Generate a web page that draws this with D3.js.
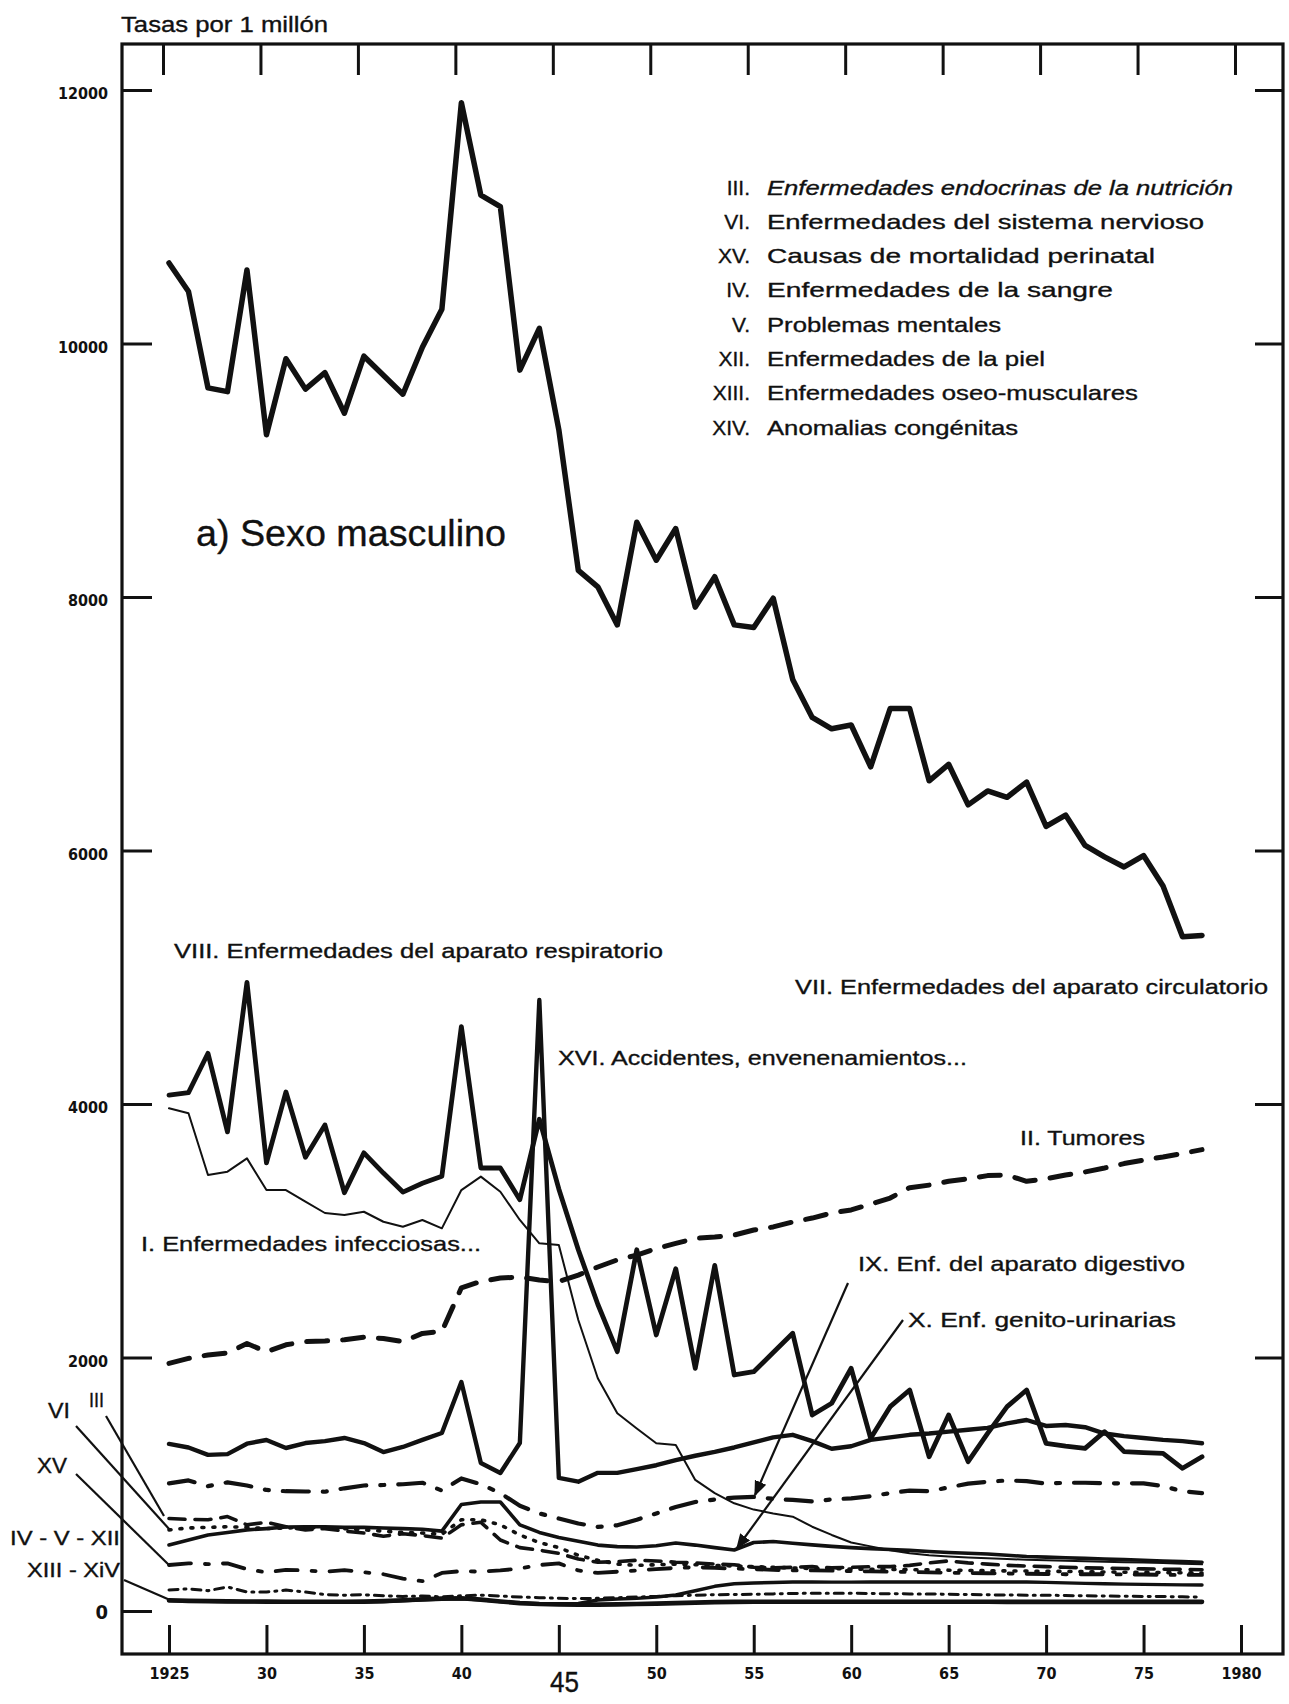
<!DOCTYPE html>
<html>
<head>
<meta charset="utf-8">
<script src="https://cdn.jsdelivr.net/npm/d3@7"></script>
<style>
  html, body { margin: 0; padding: 0; background: #fff; }
  svg { display: block; }
  text { font-family: "Liberation Sans", Arial, Helvetica, sans-serif; fill: #111; stroke: #111; stroke-width: 0.35; }
  .tick text { font-family: "DejaVu Sans Condensed", "Liberation Sans Narrow", "Liberation Sans", sans-serif; font-weight: bold; stroke: none; }
</style>
</head>
<body>
<svg id="chart" width="1289" height="1704"></svg>
<script>
// ---- data: tasas por 1 millón, sexo masculino, 1925-1978 ----
const years = d3.range(1925, 1979);

// VII
const circulatorio = [10635,10410,9650,9620,10580,9280,9880,9640,9770,9450,
  9900,9750,9600,9970,10270,11900,11170,11080,9790,10120,
  9320,8210,8080,7780,8590,8290,8540,7920,8160,7780,
  7760,7990,7350,7050,6960,6990,6660,7120,7120,6550,
  6680,6360,6470,6420,6540,6190,6280,6040,5950,5870,
  5960,5720,5320,5330];

// VIII
const respiratorio = [4070,4090,4400,3780,4960,3535,4095,3580,3835,3300,
  3615,3455,3305,3375,3430,4610,3495,3495,3245,3880,
  3330,2850,2420,2046,2850,2178,2700,1915,2727,1862,
  1888,2040,2191,1546,1639,1915,1362,1612,1744,1217,
  1546,1178,1402,1612,1744,1323,1300,1283,1415,1257,
  1250,1244,1126,1217];

// I
const infecciosas = [3966,3927,3440,3466,3571,3321,3321,3229,3140,3124,
  3150,3071,3032,3085,3019,3321,3427,3308,3085,2901,
  2888,2296,1836,1560,1440,1323,1310,1034,930,850,
  800,770,744,665,600,540,510,480,455,440,
  430,422,416,410,405,400,396,392,388,385,
  382,378,372,368];

// XVI
const accidentes = [1318,1290,1232,1238,1320,1349,1286,1325,1340,1365,
  1325,1254,1294,1350,1404,1807,1168,1089,1325,4820,
  1050,1020,1090,1090,1120,1150,1190,1225,1255,1290,
  1330,1370,1390,1340,1280,1300,1350,1370,1390,1400,
  1415,1430,1445,1480,1507,1460,1467,1450,1400,1380,
  1365,1350,1340,1323];

// II
const tumores = [1954,1993,2020,2035,2110,2045,2100,2125,2130,2140,
  2160,2150,2125,2190,2205,2550,2600,2627,2635,2611,
  2600,2650,2714,2770,2808,2860,2900,2940,2950,2966,
  3006,3030,3069,3100,3140,3164,3210,3258,3340,3360,
  3390,3410,3435,3440,3390,3410,3440,3464,3495,3530,
  3558,3582,3610,3640];

// IX
const digestivo = [1007,1030,985,1015,990,955,945,943,941,968,
  990,994,1000,1012,950,1046,1000,930,830,770,
  730,690,664,676,720,770,820,860,880,895,
  900,885,876,865,880,889,905,930,950,945,
  975,1005,1020,1030,1025,1005,1012,1012,1008,1007,
  1007,985,945,930];

// X
const genitourinarias = [521,560,600,620,640,650,663,665,665,660,
  660,655,650,645,630,840,860,860,680,620,
  580,550,520,508,505,515,536,520,500,481,
  540,548,535,522,510,500,492,485,478,470,
  462,456,450,440,430,425,420,415,410,405,
  400,395,390,385];

// III
const endocrinas = [730,722,720,745,680,700,665,640,650,630,
  615,590,610,595,575,680,700,560,500,480,
  455,410,385,390,400,395,385,380,370,365,
  345,340,345,350,340,345,350,350,360,380,
  395,380,370,360,355,350,345,340,338,335,
  332,330,328,325];

// VI
const nervioso = [640,655,660,665,660,650,655,660,655,650,
  640,630,620,615,605,720,720,680,600,540,
  500,440,400,370,360,365,370,365,360,355,
  350,345,340,335,335,330,330,328,326,325,
  322,320,318,316,315,313,312,310,308,306,
  305,303,302,300];

// XV
const perinatal = [363,376,370,376,330,305,325,320,310,323,
  305,290,255,235,300,315,310,320,335,363,
  376,320,300,310,320,330,340,345,340,335,
  330,325,320,320,318,315,312,310,308,305,
  302,300,298,296,294,292,290,290,290,288,
  288,285,285,285];

// IV - V - XII
const sangreMentalesPiel = [166,175,160,190,150,150,165,150,130,125,
  128,120,115,118,112,120,125,118,110,105,
  100,98,100,105,110,115,120,125,128,130,
  132,135,138,140,140,140,138,136,135,135,
  132,130,128,126,125,125,122,120,118,116,
  115,114,112,110];

// XIII - XIV
const oseoMusculares = [85,80,78,76,75,74,73,73,73,73,
  74,78,85,92,98,100,90,75,62,55,
  52,50,50,52,55,58,62,66,70,72,
  73,73,73,73,73,73,73,73,73,73,
  73,73,73,72,72,72,72,72,72,72,
  72,72,72,72];
const congenitas = [80,78,76,74,73,72,72,72,72,72,
  72,74,80,88,94,96,88,74,64,58,
  56,60,87,95,100,110,126,160,195,215,
  221,225,229,229,228,228,229,229,229,229,
  229,229,229,229,229,226,222,218,215,212,
  210,208,206,205];

const yTicks = [0, 2000, 4000, 6000, 8000, 10000, 12000];
const xTicks = [1925, 1930, 1935, 1940, 1945, 1950, 1955, 1960, 1965, 1970, 1975, 1980];
const xTickLabels = ["1925", "30", "35", "40", "", "50", "55", "60", "65", "70", "75", "1980"];

const legendNumerals = ["III.", "VI.", "XV.", "IV.", "V.", "XII.", "XIII.", "XIV."];
const legendNames = [
  "Enfermedades endocrinas de la nutrición",
  "Enfermedades del sistema nervioso",
  "Causas de mortalidad perinatal",
  "Enfermedades de la sangre",
  "Problemas mentales",
  "Enfermedades de la piel",
  "Enfermedades oseo-musculares",
  "Anomalias congénitas"
];

// ---- layout ----
const svg = d3.select("#chart");
const frame = { left: 122, right: 1283, top: 44, bottom: 1654 };
const x = d3.scaleLinear().domain([1925, 1980]).range([169, 1241]);
const y = d3.scaleLinear().domain([0, 12000]).range([1611, 90]);
const ink = "#111";

// axes: inward ticks on all four sides
const gLeft = svg.append("g").attr("transform", `translate(${frame.left},0)`)
  .call(d3.axisLeft(y).tickValues(yTicks).tickSizeInner(-30).tickSizeOuter(0).tickPadding(14)
    .tickFormat(d => String(d)));
const gRight = svg.append("g").attr("transform", `translate(${frame.right},0)`)
  .call(d3.axisRight(y).tickValues(yTicks.slice(1)).tickSizeInner(-28).tickSizeOuter(0).tickFormat(""));
const gTop = svg.append("g").attr("transform", `translate(-6,${frame.top})`)
  .call(d3.axisTop(x).tickValues(xTicks).tickSizeInner(-31).tickSizeOuter(0).tickFormat(""));
const gBottom = svg.append("g").attr("transform", `translate(0,${frame.bottom})`)
  .call(d3.axisBottom(x).tickValues(xTicks).tickSizeInner(-29).tickSizeOuter(0).tickPadding(14)
    .tickFormat((d, i) => xTickLabels[i]));

[gLeft, gRight, gTop, gBottom].forEach(g => {
  g.select(".domain").remove();
  g.selectAll(".tick line").attr("stroke", ink).attr("stroke-width", 3);
});
gLeft.selectAll(".tick text").attr("fill", ink)
  .attr("font-size", d => d === 0 ? 20 : 16)
  .attr("dy", d => d === 0 ? "0.36em" : "0.55em");
gBottom.selectAll(".tick text").attr("font-size", 16).attr("fill", ink);

// frame
svg.append("rect")
  .attr("x", frame.left).attr("y", frame.top)
  .attr("width", frame.right - frame.left).attr("height", frame.bottom - frame.top)
  .attr("fill", "none").attr("stroke", ink).attr("stroke-width", 3.2);

// ---- series ----
const series = [
  { values: circulatorio, width: 5.5, dash: null },
  { values: respiratorio, width: 4.8, dash: null },
  { values: infecciosas, width: 2, dash: null },
  { values: accidentes, width: 4.4, dash: null },
  { values: tumores, width: 5, dash: "21,15" },
  { values: digestivo, width: 4.2, dash: "26,14,4,14" },
  { values: genitourinarias, width: 3.6, dash: null },
  { values: endocrinas, width: 3.6, dash: "16,10" },
  { values: nervioso, width: 3.6, dash: "2,9" },
  { values: perinatal, width: 3.8, dash: "22,14,4,14" },
  { values: sangreMentalesPiel, width: 3, dash: "9,6,2,6" },
  { values: oseoMusculares, width: 4.6, dash: null },
  { values: congenitas, width: 3.4, dash: null }
];

const line = d3.line().x(d => x(d[0])).y(d => y(d[1]));

svg.append("g").selectAll("path").data(series).join("path")
  .attr("d", s => line(years.map((yr, i) => [yr, s.values[i]])))
  .attr("fill", "none")
  .attr("stroke", ink)
  .attr("stroke-width", s => s.width)
  .attr("stroke-dasharray", s => s.dash)
  .attr("stroke-linejoin", "round")
  .attr("stroke-linecap", "round");

// ---- pointers ----
const defs = svg.append("defs");
defs.append("marker").attr("id", "tip").attr("viewBox", "0 0 10 10")
  .attr("refX", 9).attr("refY", 5).attr("markerWidth", 7).attr("markerHeight", 7)
  .attr("orient", "auto")
  .append("path").attr("d", "M0,1 L10,5 L0,9 Z").attr("fill", ink);

const pointers = [
  { from: [848, 1283], to: [755, 1495], arrow: true },
  { from: [903, 1320], to: [737, 1548], arrow: true },
  { from: [106, 1416], to: [164, 1516], arrow: false },
  { from: [76, 1426], to: [170, 1530], arrow: false },
  { from: [76, 1474], to: [170, 1566], arrow: false },
  { from: [124, 1580], to: [170, 1600], arrow: false }
];
svg.append("g").selectAll("line").data(pointers).join("line")
  .attr("x1", p => p.from[0]).attr("y1", p => p.from[1])
  .attr("x2", p => p.to[0]).attr("y2", p => p.to[1])
  .attr("stroke", ink).attr("stroke-width", 2.2)
  .attr("marker-end", p => p.arrow ? "url(#tip)" : null);

// ---- texts ----
function label(txt, x0, yc, size, width, opts = {}) {
  const t = svg.append("text").attr("x", x0).attr("y", yc + size * 0.36)
    .attr("font-size", size).text(txt);
  if (width) t.attr("textLength", width).attr("lengthAdjust", "spacingAndGlyphs");
  if (opts.anchor) t.attr("text-anchor", opts.anchor);
  if (opts.italic) t.attr("font-style", "italic");
  return t;
}

label("Tasas por 1 millón", 121, 24, 22, 207);
label("a) Sexo masculino", 196, 533, 36, 310);

// legend block
const legendWidths = [466, 437, 388, 346, 234, 278, 371, 251];
legendNames.forEach((name, i) => {
  const yc = 187 + i * 34.3;
  label(legendNumerals[i], 750, yc, 21, null, { anchor: "end" });
  label(name, 767, yc, 21, legendWidths[i], { italic: i === 0 });
});

label("VIII. Enfermedades del aparato respiratorio", 174, 950, 21, 489);
label("VII. Enfermedades del aparato circulatorio", 795, 986, 21, 473);
label("XVI. Accidentes, envenenamientos...", 558, 1057, 21, 409);
label("II. Tumores", 1020, 1137, 21, 125);
label("I. Enfermedades infecciosas...", 141, 1243, 21, 340);
label("IX. Enf. del aparato digestivo", 858, 1263, 21, 327);
label("X. Enf. genito-urinarias", 908, 1319, 21, 268);

label("VI", 48, 1410, 22, 22);
label("III", 89, 1400, 20, 15);
label("XV", 37, 1465, 22, 30);
label("IV - V - XII", 10, 1538, 20, 110);
label("XIII - XiV", 27, 1570, 20, 93);

label("45", 550, 1682, 29, 29);
</script>
</body>
</html>
